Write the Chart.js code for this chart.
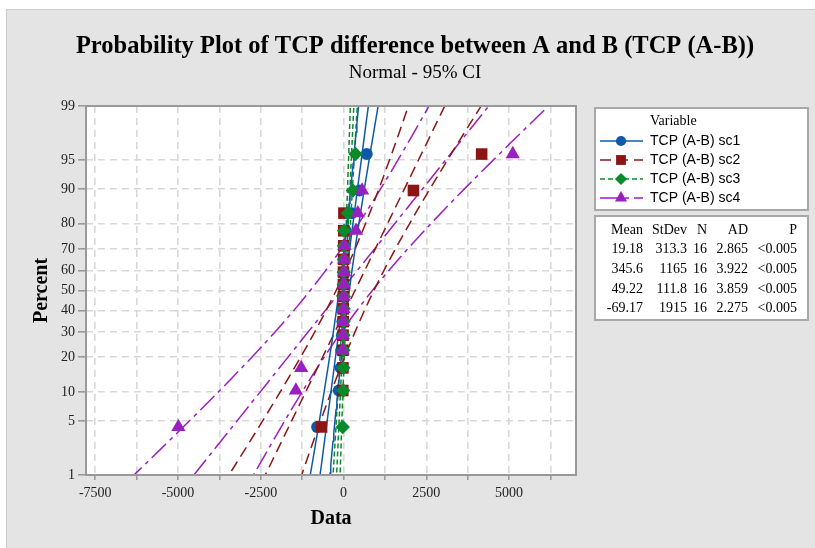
<!DOCTYPE html>
<html>
<head>
<meta charset="utf-8">
<script src="https://cdn.jsdelivr.net/npm/chart.js@4.4.1/dist/chart.umd.min.js"></script>
<style>
  html, body { margin: 0; padding: 0; background: #fff; }
  #wrap { width: 815px; height: 548px; }
</style>
</head>
<body>
<div id="wrap"><canvas id="probPlot" width="815" height="548"></canvas></div>
<script>
// ---- data ----
var percentTicks = [1, 5, 10, 20, 30, 40, 50, 60, 70, 80, 90, 95, 99];
var xGridValues = [-7500, -6250, -5000, -3750, -2500, -1250, 0, 1250, 2500, 3750, 5000, 6250];
var xLabelValues = [-7500, -5000, -2500, 0, 2500, 5000];

var seriesNames = ['TCP (A-B) sc1', 'TCP (A-B) sc2', 'TCP (A-B) sc3', 'TCP (A-B) sc4'];

// sorted observations, 16 per series
var sc1 = [-800, -145, -90, -70, -50, -35, -20, -10, -5, 0, 10, 30, 60, 250, 480, 700];
var sc2 = [-665, -25, -20, -18, -15, -12, -10, -8, -5, -3, 0, 3, 5, 10, 2110, 4170];
var sc3 = [-25, -10, -5, -5, -3, 0, 2, 5, 5, 8, 10, 12, 15, 130, 280, 360];
var sc4 = [-4990, -1440, -1280, -30, -20, -10, 0, 5, 10, 15, 20, 25, 376, 430, 560, 5110];

// summary table
var means = [19.18, 345.6, 49.22, -69.17];
var stdevs = [313.3, 1165, 111.8, 1915];
var nObs = [16, 16, 16, 16];
var pValues = ['<0.005', '<0.005', '<0.005', '<0.005'];
var meanLabels = ['19.18', '345.6', '49.22', '-69.17'];
var stdevLabels = ['313.3', '1165', '111.8', '1915'];
var adLabels = ['2.865', '3.922', '3.859', '2.275'];

// ---- styles ----
var colors = ['#0f5aa8', '#8c1616', '#0b8a2c', '#9a1fbf'];
var pointStyles = ['circle', 'rect', 'rectRot', 'triangle'];
var pointSizes = [6, 8.2, 7.2, 8.2];
var dashes = [[], [11, 6], [5, 3], [20, 5, 4, 5]];
var serif = '"Liberation Serif", "Times New Roman", serif';
var sans = '"Liberation Sans", Arial, sans-serif';

// inverse normal cdf (Acklam)
function qnorm(p) {
  var a = [-3.969683028665376e+01, 2.209460984245205e+02, -2.759285104469687e+02, 1.383577518672690e+02, -3.066479806614716e+01, 2.506628277459239e+00];
  var b = [-5.447609879822406e+01, 1.615858368580409e+02, -1.556989798598866e+02, 6.680131188771972e+01, -1.328068155288572e+01];
  var c = [-7.784894002430293e-03, -3.223964580411365e-01, -2.400758277161838e+00, -2.549671010286680e+00, 4.374664141464968e+00, 2.938163982698783e+00];
  var d = [7.784695709041462e-03, 3.224671290700398e-01, 2.445134137142996e+00, 3.754408661907416e+00];
  var pl = 0.02425, q, r;
  if (p < pl) {
    q = Math.sqrt(-2 * Math.log(p));
    return (((((c[0]*q+c[1])*q+c[2])*q+c[3])*q+c[4])*q+c[5]) / ((((d[0]*q+d[1])*q+d[2])*q+d[3])*q+1);
  }
  if (p > 1 - pl) {
    q = Math.sqrt(-2 * Math.log(1 - p));
    return -(((((c[0]*q+c[1])*q+c[2])*q+c[3])*q+c[4])*q+c[5]) / ((((d[0]*q+d[1])*q+d[2])*q+d[3])*q+1);
  }
  q = p - 0.5; r = q * q;
  return (((((a[0]*r+a[1])*r+a[2])*r+a[3])*r+a[4])*r+a[5])*q / (((((b[0]*r+b[1])*r+b[2])*r+b[3])*r+b[4])*r+1);
}

var yMin = qnorm(0.01), yMax = qnorm(0.99);

// ---- datasets ----
var allSeries = [sc1, sc2, sc3, sc4];
var datasets = [];

allSeries.forEach(function(vals, s) {
  var n = vals.length;
  datasets.push({
    label: seriesNames[s],
    data: vals.map(function(v, i) { return { x: v, y: qnorm((i + 1 - 0.3) / (n + 0.4)) }; }),
    showLine: false,
    pointStyle: pointStyles[s],
    pointRadius: pointSizes[s],
    pointBackgroundColor: colors[s],
    pointBorderColor: colors[s],
    pointBorderWidth: 0,
    order: 3 - s
  });
});

// fitted line and 95% CI bands from mean / stdev
allSeries.forEach(function(vals, s) {
  var fit = [], lo = [], hi = [];
  for (var k = -30; k <= 30; k++) {
    var z = k / 10;
    var mid = means[s] + stdevs[s] * z;
    var half = 1.96 * stdevs[s] * Math.sqrt((1 + z * z / 2) / nObs[s]);
    fit.push({ x: mid, y: z });
    lo.push({ x: mid - half, y: z });
    hi.push({ x: mid + half, y: z });
  }
  [fit, lo, hi].forEach(function(line) {
    datasets.push({
      data: line,
      showLine: true,
      pointRadius: 0,
      borderColor: colors[s],
      borderWidth: 1.5,
      borderDash: dashes[s],
      fill: false,
      order: 10 + s
    });
  });
});

// ---- drawing helpers ----
function drawMarker(ctx, style, x, y, r, color) {
  ctx.save();
  ctx.fillStyle = color;
  ctx.beginPath();
  if (style === 'circle') {
    ctx.arc(x, y, r, 0, Math.PI * 2);
  } else if (style === 'rect') {
    var side = r * Math.SQRT2;
    ctx.rect(x - side / 2, y - side / 2, side, side);
  } else if (style === 'rectRot') {
    ctx.moveTo(x, y - r); ctx.lineTo(x + r, y); ctx.lineTo(x, y + r); ctx.lineTo(x - r, y);
  } else {
    ctx.moveTo(x, y - r);
    ctx.lineTo(x + r * Math.sin(Math.PI * 2 / 3), y - r * Math.cos(Math.PI * 2 / 3));
    ctx.lineTo(x + r * Math.sin(Math.PI * 4 / 3), y - r * Math.cos(Math.PI * 4 / 3));
  }
  ctx.closePath();
  ctx.fill();
  ctx.restore();
}

var framePlugin = {
  id: 'minitabFrame',
  beforeDraw: function(chart) {
    var ctx = chart.ctx, a = chart.chartArea;
    ctx.save();
    ctx.fillStyle = '#ffffff';
    ctx.fillRect(0, 0, chart.width, chart.height);
    ctx.fillStyle = '#e4e4e4';
    ctx.fillRect(6, 9, chart.width - 6, chart.height - 9);
    ctx.strokeStyle = '#cacaca';
    ctx.lineWidth = 1;
    ctx.strokeRect(6.5, 9.5, chart.width, chart.height);
    ctx.fillStyle = '#ffffff';
    ctx.fillRect(a.left, a.top, a.right - a.left, a.bottom - a.top);
    ctx.restore();
  },
  afterDraw: function(chart) {
    var ctx = chart.ctx, a = chart.chartArea;
    ctx.save();
    // plot border
    ctx.strokeStyle = '#999999';
    ctx.lineWidth = 2;
    ctx.strokeRect(a.left, a.top, a.right - a.left, a.bottom - a.top);

    // titles
    ctx.fillStyle = '#000';
    ctx.textAlign = 'center';
    ctx.textBaseline = 'middle';
    ctx.font = 'bold 24.5px ' + serif;
    ctx.fillText('Probability Plot of TCP difference between A and B (TCP (A-B))', 415, 47);
    ctx.font = '19px ' + serif;
    ctx.fillText('Normal - 95% CI', 415, 73);

    // axis titles
    ctx.font = 'bold 20px ' + serif;
    ctx.fillText('Data', (a.left + a.right) / 2, 519);
    ctx.save();
    ctx.translate(42, (a.top + a.bottom) / 2);
    ctx.rotate(-Math.PI / 2);
    ctx.fillText('Percent', 0, 0);
    ctx.restore();

    // legend box
    ctx.fillStyle = '#fff';
    ctx.fillRect(595, 108, 213, 102);
    ctx.strokeStyle = '#a8a8a8';
    ctx.lineWidth = 2;
    ctx.strokeRect(595, 108, 213, 102);
    ctx.fillStyle = '#000';
    ctx.textAlign = 'left';
    ctx.font = '14px ' + serif;
    ctx.fillText('Variable', 650, 121);
    ctx.font = '14px ' + sans;
    var rowsY = [141, 160, 179, 198];
    seriesNames.forEach(function(name, s) {
      var y = rowsY[s];
      ctx.save();
      ctx.strokeStyle = colors[s];
      ctx.lineWidth = 1.5;
      ctx.setLineDash(dashes[s]);
      ctx.beginPath();
      ctx.moveTo(600, y);
      ctx.lineTo(643, y);
      ctx.stroke();
      ctx.restore();
      drawMarker(ctx, pointStyles[s], 621, y, pointSizes[s] * 0.85, colors[s]);
      ctx.fillStyle = '#000';
      ctx.fillText(name, 650, y);
    });

    // stats box
    ctx.fillStyle = '#fff';
    ctx.fillRect(595, 216, 213, 104);
    ctx.strokeStyle = '#a8a8a8';
    ctx.strokeRect(595, 216, 213, 104);
    ctx.fillStyle = '#000';
    ctx.font = '14px ' + serif;
    ctx.textAlign = 'right';
    var colX = [643, 687, 707, 748, 797];
    var head = ['Mean', 'StDev', 'N', 'AD', 'P'];
    head.forEach(function(h, i) { ctx.fillText(h, colX[i], 230); });
    var statY = [249, 269, 289, 308];
    for (var s = 0; s < 4; s++) {
      var row = [meanLabels[s], stdevLabels[s], String(nObs[s]), adLabels[s], pValues[s]];
      row.forEach(function(t, i) { ctx.fillText(t, colX[i], statY[s]); });
    }
    ctx.restore();
  }
};

var ctx = document.getElementById('probPlot').getContext('2d');

new Chart(ctx, {
  type: 'scatter',
  data: { datasets: datasets },
  options: {
    responsive: false,
    animation: false,
    layout: { padding: { left: 20, right: 239, top: 106, bottom: 0 } },
    plugins: {
      legend: { display: false },
      tooltip: { enabled: false }
    },
    scales: {
      x: {
        type: 'linear',
        min: -7780,
        max: 7020,
        afterBuildTicks: function(scale) {
          scale.ticks = xGridValues.map(function(v) { return { value: v }; });
        },
        afterFit: function(scale) { scale.height = 73; },
        ticks: {
          autoSkip: false,
          maxRotation: 0,
          color: '#222',
          font: { family: serif, size: 14 },
          padding: 5,
          callback: function(v) { return xLabelValues.indexOf(v) >= 0 ? String(v) : ''; }
        },
        grid: {
          color: '#d8d8d8',
          lineWidth: 1.6,
          tickColor: '#9a9a9a',
          tickLength: 5,
          tickBorderDash: []
        },
        border: { display: false, dash: [7, 5] }
      },
      y: {
        type: 'linear',
        min: yMin,
        max: yMax,
        afterBuildTicks: function(scale) {
          scale.ticks = percentTicks.map(function(p) { return { value: qnorm(p / 100) }; });
        },
        afterFit: function(scale) { scale.width = 66; },
        ticks: {
          autoSkip: false,
          color: '#222',
          font: { family: serif, size: 14 },
          padding: 3,
          callback: function(v, i) { return String(percentTicks[i]); }
        },
        grid: {
          color: '#d8d8d8',
          lineWidth: 1.6,
          tickColor: '#9a9a9a',
          tickLength: 8,
          tickBorderDash: []
        },
        border: { display: false, dash: [7, 5] }
      }
    }
  },
  plugins: [framePlugin]
});
</script>
</body>
</html>
